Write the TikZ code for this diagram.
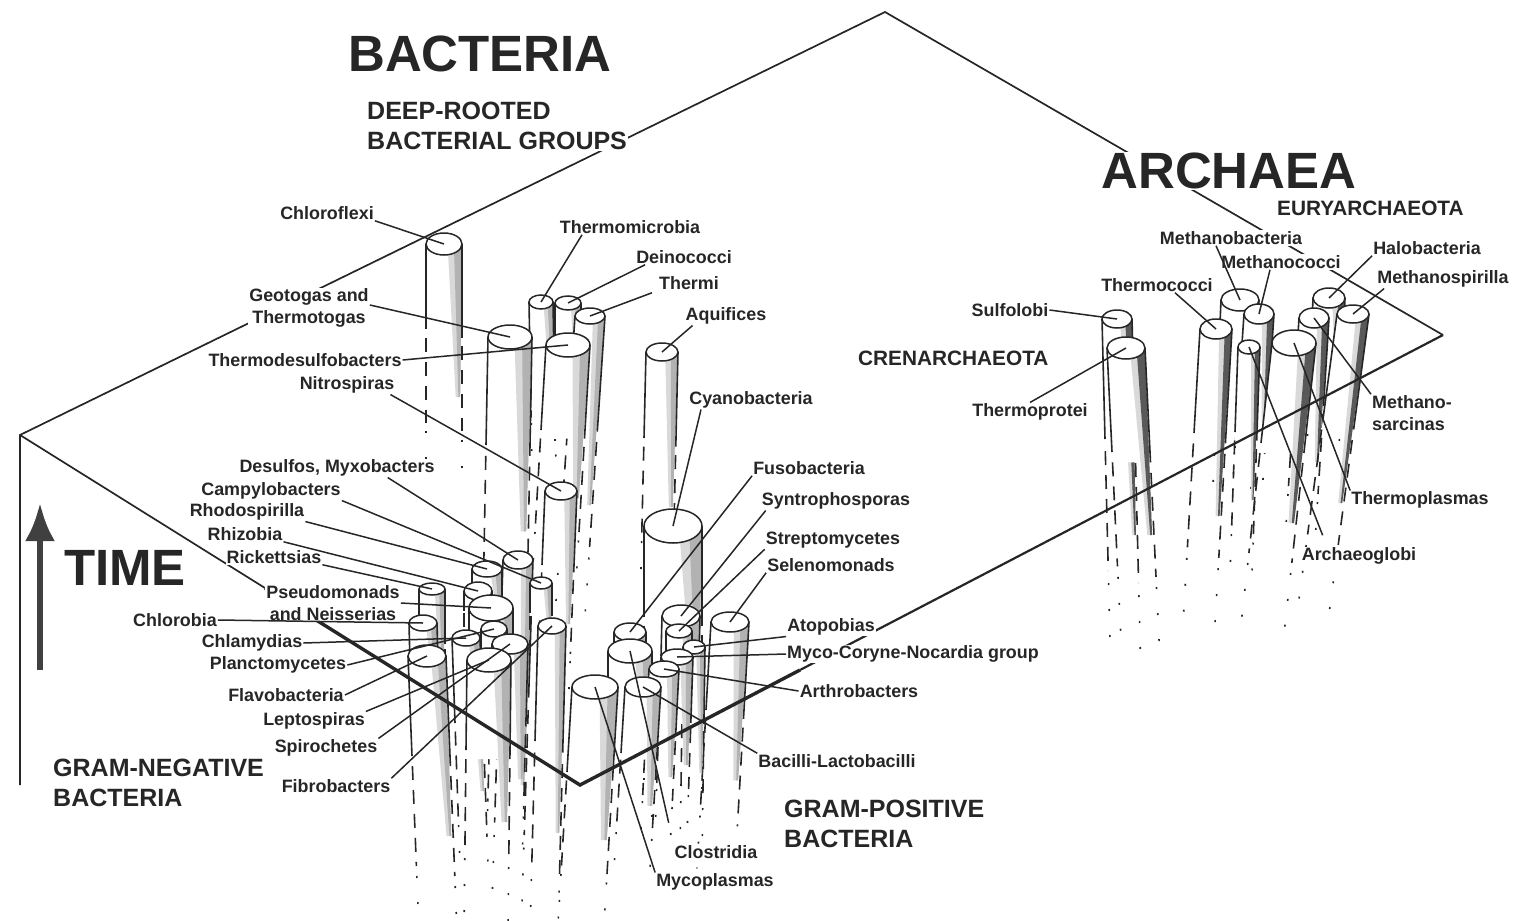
\documentclass[tikz,border=0pt]{standalone}
\usepackage{fontspec}
\setmainfont{Liberation Sans}
\usetikzlibrary{arrows.meta,shapes.geometric}

\tikzset{
  plane/.style={line width=1.7pt, black!85},
  leader/.style={line width=1.5pt, black!85},
  taxon/.style={font=\fontsize{17.9}{22}\selectfont\bfseries, text=black!85, fill=white, inner sep=1pt, align=center},
  grouplabel/.style={font=\fontsize{25}{30}\selectfont\bfseries, text=black!85, fill=white, inner sep=1pt, align=left},
  realm/.style={font=\fontsize{51}{56}\selectfont\bfseries, text=black!85, fill=white, inner sep=1pt},
  pillartop/.style={draw=black!85, line width=1.5pt, fill=white, ellipse, inner sep=0pt},
  pillarband/.style={fill=gray!60},
  pillarline/.style={line width=1.6pt, black!85}
}

% name, x, y, rx, ry, solid length, drift
\newcommand{\pillar}[7]{%
  \fill[white] (#2-#4,#3) -- (#2-#4+#7*1.1,#3+#6*1.1) -- (#2+#4+#7*1.1,#3+#6*1.1) -- (#2+#4,#3) -- cycle;
  \fill[gray!30] (#2+#4*0.2,#3) -- (#2+#4,#3) -- (#2+#4*0.9+#7*1.8,#3+#6*1.8) -- (#2+#4*0.65+#7*1.8,#3+#6*1.8) -- cycle;
  \fill[pillarband] (#2+#4*0.55,#3) -- (#2+#4,#3) -- (#2+#4*0.9+#7*1.8,#3+#6*1.8) -- (#2+#4*0.8+#7*1.8,#3+#6*1.8) -- cycle;
  \draw[pillarline] (#2-#4,#3) -- (#2-#4+#7,#3+#6);
  \draw[pillarline] (#2+#4,#3) -- (#2+#4+#7*1.1,#3+#6*1.1);
  \draw[pillarline, dash pattern=on 14pt off 10pt] (#2-#4+#7*1.1,#3+#6*1.1) -- (#2-#4+#7*2.1,#3+#6*2.1);
  \draw[pillarline, dash pattern=on 14pt off 10pt] (#2+#4+#7*1.2,#3+#6*1.2) -- (#2+#4+#7*2.2,#3+#6*2.2);
  \draw[pillarline, dash pattern=on 2pt off 24pt] (#2-#4+#7*2.2,#3+#6*2.2) -- (#2-#4+#7*2.8,#3+#6*2.8);
  \draw[pillarline, dash pattern=on 2pt off 24pt] (#2+#4+#7*2.3,#3+#6*2.3) -- (#2+#4+#7*2.9,#3+#6*2.9);
  \node[pillartop, minimum width={2pt*#4}, minimum height={2pt*#5}] (#1) at (#2,#3) {};
}

\begin{document}
\begin{tikzpicture}[x=1pt,y=-1pt]
\useasboundingbox (0,0) rectangle (1513,921);

% Plane corners
\coordinate (apex) at (885,12);
\coordinate (leftcorner) at (20,435);
\coordinate (leftfoot) at (20,785);
\coordinate (leftmid) at (265,588);
\coordinate (frontcorner) at (580,785);
\coordinate (rightmid) at (800,670);
\coordinate (rightcorner) at (1443,335);

% Back edges of the plane
\draw[plane] (leftfoot) -- (leftcorner) -- (apex) -- (rightcorner);

% Deep-rooted bacteria
\pillar{chloroflexi}{444}{244}{18}{11}{85}{0}
\pillar{thermomicrobia}{541}{302}{12}{7}{55}{1}
\pillar{deinococci}{568}{303}{13}{7}{50}{0}
\pillar{thermi}{590}{316}{15}{8}{105}{-7}
\pillar{geotogas}{510}{337}{22}{12}{108}{-2}
\pillar{thermodesulfo}{568}{345}{22}{12}{85}{-5}
\pillar{aquifices}{662}{352}{16}{9}{86}{-2}
\pillar{nitrospiras}{561}{491}{16}{9}{74}{-3}

% Gram-negative bacteria
\pillar{desulfos}{518}{560}{15}{9}{125}{-4}
\pillar{rhodospirilla}{487}{569}{15}{8}{25}{0}
\pillar{campylobacters}{541}{583}{11}{6}{30}{0}
\pillar{rhizobia}{478}{591}{14}{9}{20}{0}
\pillar{rickettsias}{432}{589}{13}{6}{50}{0}
\pillar{pseudomonads}{491}{608}{22}{13}{30}{0}
\pillar{chlorobia}{423}{623}{14}{8}{40}{1}
\pillar{planctomycetes}{494}{629}{13}{8}{25}{0}
\pillar{chlamydias}{466}{638}{14}{8}{85}{3}
\pillar{fibrobacters}{552}{626}{14}{8}{115}{-3}
\pillar{spirochetes}{510}{644}{18}{10}{75}{-2}
\pillar{leptospiras}{489}{660}{22}{12}{90}{-1}
\pillar{flavobacteria}{427}{656}{19}{11}{100}{4}

% Gram-positive bacteria
\pillar{cyanobacteria}{673}{526}{29}{17}{91}{0}
\pillar{fusobacteria}{630}{632}{16}{9}{20}{0}
\pillar{syntrophosporas}{681}{616}{19}{11}{40}{-1}
\pillar{streptomycetes}{679}{631}{13}{7}{25}{0}
\pillar{selenomonads}{730}{622}{19}{10}{88}{-5}
\pillar{atopobias}{694}{647}{11}{7}{70}{-1}
\pillar{myco}{677}{657}{16}{8}{60}{-2}
\pillar{clostridia}{630}{651}{22}{12}{60}{0}
\pillar{arthrobacters}{664}{669}{15}{8}{60}{-3}
\pillar{bacilli}{643}{687}{18}{10}{66}{-4}
\pillar{mycoplasmas}{595}{687}{23}{12}{85}{-5}

% Archaea
\begin{scope}[pillarband/.style={fill=black!65}]
\pillar{sulfolobi}{1117}{319}{15}{9}{120}{3}
\pillar{thermoprotei}{1126}{348}{19}{11}{104}{5}
\pillar{methanobacteria}{1240}{300}{19}{11}{70}{-3}
\pillar{methanococci}{1259}{314}{15}{10}{60}{-4}
\pillar{thermococci}{1216}{329}{16}{10}{104}{-6}
\pillar{archaeoglobi}{1249}{347}{11}{7}{85}{-3}
\pillar{halobacteria}{1329}{298}{16}{10}{50}{-2}
\pillar{methanosarcinas}{1314}{318}{15}{10}{80}{-5}
\pillar{methanospirilla}{1353}{314}{16}{9}{105}{-14}
\pillar{thermoplasmas}{1294}{343}{22}{13}{100}{-11}
\end{scope}

% Front edges of the plane
\draw[plane] (leftcorner) -- (leftmid);
\draw[plane, line width=3.4pt] (leftmid) -- (frontcorner) -- (rightmid);
\draw[plane, line width=2.2pt] (rightmid) -- (rightcorner);

% Time arrow
\coordinate (timefoot) at (40,670);
\coordinate (timehead) at (40,503);
\draw[line width=6.5pt, black!75, -{Latex[length=38pt,width=30pt]}] (timefoot) -- (timehead);

% Headings
\node[realm] (bacteria) at (480,54) {BACTERIA};
\node[realm] (archaea) at (1229,171) {ARCHAEA};
\node[realm] (time) at (125,568) {TIME};
\node[grouplabel, anchor=west] (deeprooted) at (366,126) {DEEP-ROOTED\\BACTERIAL GROUPS};
\node[grouplabel, anchor=west, font=\fontsize{20.8}{24}\selectfont\bfseries] (eury) at (1276,208) {EURYARCHAEOTA};
\node[grouplabel, anchor=west, font=\fontsize{20.8}{24}\selectfont\bfseries] (cren) at (857,358) {CRENARCHAEOTA};
\node[grouplabel, anchor=west] (gramneg) at (52,783) {GRAM-NEGATIVE\\BACTERIA};
\node[grouplabel, anchor=west] (grampos) at (783,824) {GRAM-POSITIVE\\BACTERIA};

% Bacteria labels
\node[taxon] (lchloroflexi) at (327,213) {Chloroflexi};
\node[taxon] (lthermomicrobia) at (630,227) {Thermomicrobia};
\node[taxon] (ldeinococci) at (684,257) {Deinococci};
\node[taxon] (lthermi) at (689,283) {Thermi};
\node[taxon] (laquifices) at (726,316) {Aquifices};
\node[taxon] (lgeotogas) at (309,308) {Geotogas and\\Thermotogas};
\node[taxon] (lthermodesulfo) at (305,360) {Thermodesulfobacters};
\node[taxon] (lnitrospiras) at (347,385) {Nitrospiras};
\node[taxon] (lcyanobacteria) at (751,400) {Cyanobacteria};
\node[taxon] (ldesulfos) at (337,468) {Desulfos, Myxobacters};
\node[taxon] (lcampylobacters) at (271,491) {Campylobacters};
\node[taxon] (lrhodospirilla) at (247,512) {Rhodospirilla};
\node[taxon] (lrhizobia) at (245,534) {Rhizobia};
\node[taxon] (lrickettsias) at (274,557) {Rickettsias};
\node[taxon] (lpseudomonads) at (333,603) {Pseudomonads\\and Neisserias};
\node[taxon] (lchlorobia) at (175,620) {Chlorobia};
\node[taxon] (lchlamydias) at (252,643) {Chlamydias};
\node[taxon] (lplanctomycetes) at (278,665) {Planctomycetes};
\node[taxon] (lflavobacteria) at (286,695) {Flavobacteria};
\node[taxon] (lleptospiras) at (314,721) {Leptospiras};
\node[taxon] (lspirochetes) at (326,748) {Spirochetes};
\node[taxon] (lfibrobacters) at (336,786) {Fibrobacters};
\node[taxon] (lfusobacteria) at (809,468) {Fusobacteria};
\node[taxon] (lsyntrophosporas) at (836,501) {Syntrophosporas};
\node[taxon] (lstreptomycetes) at (833,540) {Streptomycetes};
\node[taxon] (lselenomonads) at (831,565) {Selenomonads};
\node[taxon] (latopobias) at (831,627) {Atopobias};
\node[taxon] (lmyco) at (913,654) {Myco-Coryne-Nocardia group};
\node[taxon] (larthrobacters) at (859,691) {Arthrobacters};
\node[taxon] (lbacilli) at (837,761) {Bacilli-Lactobacilli};
\node[taxon] (lclostridia) at (716,852) {Clostridia};
\node[taxon] (lmycoplasmas) at (715,882) {Mycoplasmas};

% Archaea labels
\node[taxon] (lsulfolobi) at (1010,310) {Sulfolobi};
\node[taxon] (lthermoprotei) at (1030,412) {Thermoprotei};
\node[taxon] (lthermococci) at (1157,285) {Thermococci};
\node[taxon] (lmethanobacteria) at (1231,238) {Methanobacteria};
\node[taxon] (lmethanococci) at (1281,262) {Methanococci};
\node[taxon] (lhalobacteria) at (1427,248) {Halobacteria};
\node[taxon] (lmethanospirilla) at (1443,279) {Methanospirilla};
\node[taxon, align=left] (lmethanosarcinas) at (1412,413) {Methano-\\sarcinas};
\node[taxon] (lthermoplasmas) at (1420,500) {Thermoplasmas};
\node[taxon] (larchaeoglobi) at (1359,556) {Archaeoglobi};

% Leaders to the bacteria
\draw[leader] (lchloroflexi.south east) -- (chloroflexi.center);
\draw[leader] ([xshift=-48pt]lthermomicrobia.south) -- (thermomicrobia.center);
\draw[leader] ([xshift=10pt]ldeinococci.south west) -- (deinococci.center);
\draw[leader] ([xshift=-6pt,yshift=-2pt]lthermi.south west) -- (thermi.center);
\draw[leader] ([xshift=8pt]laquifices.south west) -- (aquifices.center);
\draw[leader] ([yshift=3pt]lgeotogas.east) -- (geotogas.center);
\draw[leader] (lthermodesulfo.east) -- (thermodesulfo.center);
\draw[leader] ([xshift=-5pt]lnitrospiras.south east) -- (nitrospiras.center);
\draw[leader] ([xshift=-50pt]lcyanobacteria.south) -- (cyanobacteria.center);
\draw[leader] ([xshift=-48pt]ldesulfos.south east) -- (desulfos.center);
\draw[leader] (lcampylobacters.south east) -- (campylobacters.center);
\draw[leader] (lrhodospirilla.south east) -- (rhodospirilla.center);
\draw[leader] (lrhizobia.south east) -- (rhizobia.center);
\draw[leader] (lrickettsias.south east) -- (rickettsias.center);
\draw[leader] (lpseudomonads.east) -- (pseudomonads.center);
\draw[leader] (lchlorobia.east) -- (chlorobia.center);
\draw[leader] (lchlamydias.east) -- (chlamydias.center);
\draw[leader] (lplanctomycetes.east) -- (planctomycetes.center);
\draw[leader] (lflavobacteria.east) -- (flavobacteria.center);
\draw[leader] (lleptospiras.north east) -- (leptospiras.center);
\draw[leader] (lspirochetes.north east) -- (spirochetes.center);
\draw[leader] (lfibrobacters.north east) -- (fibrobacters.center);
\draw[leader] (lfusobacteria.south west) -- (fusobacteria.center);
\draw[leader] ([xshift=5pt]lsyntrophosporas.south west) -- (syntrophosporas.center);
\draw[leader] (lstreptomycetes.south west) -- (streptomycetes.center);
\draw[leader] (lselenomonads.south west) -- (selenomonads.center);
\draw[leader] (latopobias.south west) -- (atopobias.center);
\draw[leader] (lmyco.west) -- (myco.center);
\draw[leader] (larthrobacters.west) -- (arthrobacters.center);
\draw[leader] (lbacilli.north west) -- (bacilli.center);
\draw[leader, shorten <=22pt] (lclostridia.north west) -- (clostridia.center);
\draw[leader] (lmycoplasmas.north west) -- (mycoplasmas.center);

% Leaders to the archaea
\draw[leader] (lsulfolobi.east) -- (sulfolobi.center);
\draw[leader] (lthermoprotei.north) -- (thermoprotei.center);
\draw[leader] ([xshift=18pt]lthermococci.south) -- (thermococci.center);
\draw[leader] ([xshift=-15pt]lmethanobacteria.south) -- (methanobacteria.center);
\draw[leader] ([xshift=-11pt]lmethanococci.south) -- (methanococci.center);
\draw[leader] (lhalobacteria.south west) -- (halobacteria.center);
\draw[leader] ([xshift=8pt]lmethanospirilla.south west) -- (methanospirilla.center);
\draw[leader] (lmethanosarcinas.north west) -- (methanosarcinas.center);
\draw[leader] (lthermoplasmas.north west) -- (thermoplasmas.center);
\draw[leader, shorten <=12pt] ([xshift=-32pt]larchaeoglobi.north) -- (archaeoglobi.center);

\end{tikzpicture}
\end{document}
